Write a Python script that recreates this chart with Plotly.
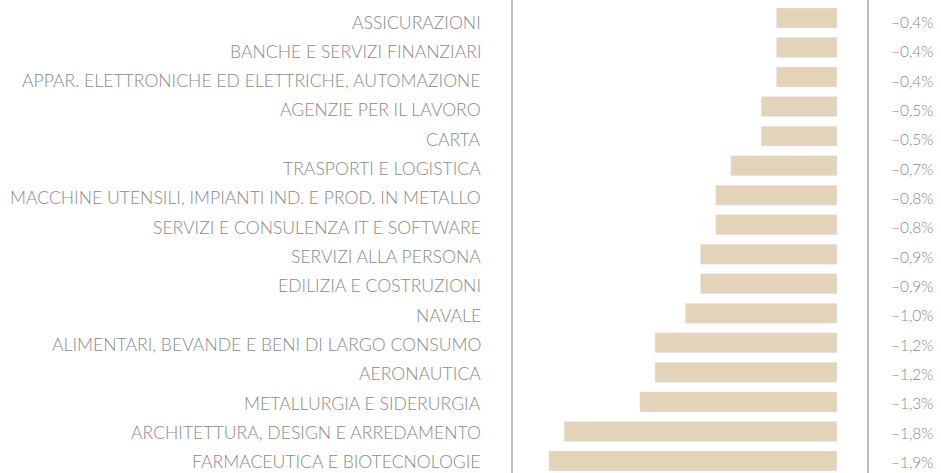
import plotly.graph_objects as go

categories = [
    "ASSICURAZIONI",
    "BANCHE E SERVIZI FINANZIARI",
    "APPAR. ELETTRONICHE ED ELETTRICHE, AUTOMAZIONE",
    "AGENZIE PER IL LAVORO",
    "CARTA",
    "TRASPORTI E LOGISTICA",
    "MACCHINE UTENSILI, IMPIANTI IND. E PROD. IN METALLO",
    "SERVIZI E CONSULENZA IT E SOFTWARE",
    "SERVIZI ALLA PERSONA",
    "EDILIZIA E COSTRUZIONI",
    "NAVALE",
    "ALIMENTARI, BEVANDE E BENI DI LARGO CONSUMO",
    "AERONAUTICA",
    "METALLURGIA E SIDERURGIA",
    "ARCHITETTURA, DESIGN E ARREDAMENTO",
    "FARMACEUTICA E BIOTECNOLOGIE",
]
values = [-0.4, -0.4, -0.4, -0.5, -0.5, -0.7, -0.8, -0.8, -0.9, -0.9,
          -1.0, -1.2, -1.2, -1.3, -1.8, -1.9]
value_labels = ["–" + f"{abs(v):.1f}".replace(".", ",") + "%" for v in values]

idx = list(range(len(categories)))

BAR = "#E2D3B9"
TXT = "#8a8a8a"
LINE = "#bdbdbd"
FONT = "Lato"

fig = go.Figure(go.Bar(
    x=values, y=idx, orientation="h", marker_color=BAR,
    width=0.677, hoverinfo="skip",
))

ann = []
for i, (c, lab) in enumerate(zip(categories, value_labels)):
    ys = -(4.0 - 0.2 * i)
    ann.append(dict(x=0, xref="paper", y=i, yref="y", text=c, showarrow=False,
                    xanchor="right", xshift=-32, yshift=ys, borderpad=0, borderwidth=0,
                    font=dict(family=FONT, size=17.6, color=TXT, weight=300)))
    ann.append(dict(x=1, xref="paper", y=i, yref="y", text=lab, showarrow=False,
                    xanchor="left", xshift=24, yshift=ys, borderpad=0, borderwidth=0,
                    font=dict(family=FONT, size=15.5, color=TXT, weight=300)))

fig.update_layout(
    width=941, height=473,
    margin=dict(l=513, r=74, t=0, b=0),
    paper_bgcolor="white", plot_bgcolor="white",
    showlegend=False,
    annotations=ann,
    xaxis=dict(range=[-2.137, 0.198], showgrid=False, zeroline=False,
               showticklabels=False, showline=False, fixedrange=True),
    yaxis=dict(range=[15.408, -0.6096], showgrid=False, zeroline=False,
               showticklabels=False, showline=True, mirror=True,
               linecolor=LINE, linewidth=2, fixedrange=True),
)

fig.write_html("out.html", config={"displayModeBar": False})
